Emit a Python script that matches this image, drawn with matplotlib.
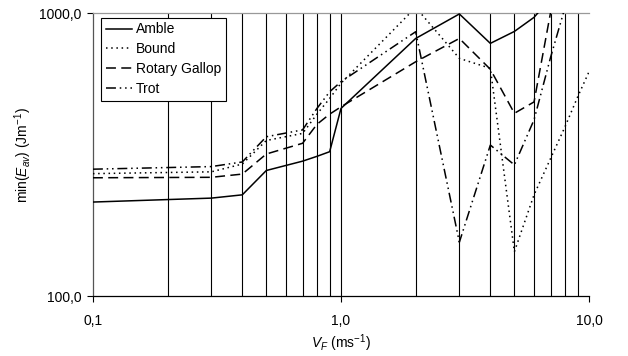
import numpy as np
import matplotlib
matplotlib.use("Agg")
import matplotlib.pyplot as plt
from matplotlib.ticker import FixedLocator, FuncFormatter, NullFormatter

plt.rcParams["font.family"] = ["Liberation Sans", "DejaVu Sans"]
plt.rcParams["mathtext.fontset"] = "custom"
plt.rcParams["mathtext.rm"] = "Liberation Sans"
plt.rcParams["mathtext.it"] = "Liberation Sans:italic"

# speeds (ms^-1) and min(E_av) per gait
speed = [0.1, 0.3, 0.4, 0.5, 0.7, 0.8, 0.9, 1.0, 2, 3, 4, 5, 6, 7, 8, 9, 10]
amble = [215, 222, 228, 278, 300, 312, 324, 461, 815, 995, 783, 863, 968, 1130,
         np.nan, np.nan, np.nan]
bound = [271, 275, 293, 355, 376, 440, 500, 566, 1050, 693, 639, 143.5, 228, 307,
         397, 507, 622]
rotary = [262, 263, 270, 318, 347, 405, 440, 467, 674, 815, 634, 443, 486, 1010,
          np.nan, np.nan, np.nan]
trot = [281, 287, 298, 366, 387, 461, 528, 573, 861, 155, 342, 291, 420, 700,
        1050, np.nan, np.nan]

grid_x = [0.2, 0.3, 0.4, 0.5, 0.6, 0.7, 0.8, 0.9, 1, 2, 3, 4, 5, 6, 7, 8, 9]

fig = plt.figure(figsize=(6.28, 3.56), dpi=100)
ax = fig.add_axes([0.148, 0.1685, 0.79, 0.794])

for gx in grid_x:
    ax.axvline(gx, color="black", lw=0.8, zorder=1)

ax.plot(speed, amble, color="black", lw=1.1, ls="-", label="Amble", zorder=3)
ax.plot(speed, bound, color="black", lw=1.1, ls=(0, (1, 2.4)), label="Bound", zorder=3)
ax.plot(speed, rotary, color="black", lw=1.1, ls=(0, (6.5, 3.5)), label="Rotary Gallop", zorder=3)
ax.plot(speed, trot, color="black", lw=1.1, ls=(0, (6.5, 2.5, 1, 2.5, 1, 2.5)), label="Trot", zorder=3)

ax.set_xscale("log")
ax.set_yscale("log")
ax.set_xlim(0.1, 10)
ax.set_ylim(100, 1000)

comma = FuncFormatter(lambda v, p: ("%.1f" % v).replace(".", ","))
ax.xaxis.set_major_locator(FixedLocator([0.1, 1, 10]))
ax.yaxis.set_major_locator(FixedLocator([100, 1000]))
ax.xaxis.set_major_formatter(comma)
ax.yaxis.set_major_formatter(comma)
ax.xaxis.set_minor_locator(FixedLocator([]))
ax.yaxis.set_minor_locator(FixedLocator([]))
ax.xaxis.set_minor_formatter(NullFormatter())
ax.yaxis.set_minor_formatter(NullFormatter())
ax.tick_params(axis="both", which="major", direction="out", length=4, width=0.8,
               labelsize=10, colors="black")
ax.tick_params(axis="x", pad=9)
ax.tick_params(axis="y", pad=4)

ax.spines["right"].set_visible(False)
ax.spines["top"].set_color("#999999")
ax.spines["left"].set_color("#555555")
ax.spines["bottom"].set_color("black")
for s in ax.spines.values():
    s.set_linewidth(0.9)

ax.set_xlabel(r"$V_F$ (ms$^{-1}$)", fontsize=10, labelpad=3)
ax.set_ylabel(r"min($E_{av}$) (Jm$^{-1}$)", fontsize=10, labelpad=4)

leg = ax.legend(loc="upper left", bbox_to_anchor=(0.016, 0.985), borderaxespad=0,
                fontsize=10, handlelength=1.9, labelspacing=0.42, fancybox=False,
                framealpha=1, edgecolor="black", borderpad=0.35, handletextpad=0.25)
leg.get_frame().set_linewidth(0.8)

fig.savefig("out.png", dpi=100)
